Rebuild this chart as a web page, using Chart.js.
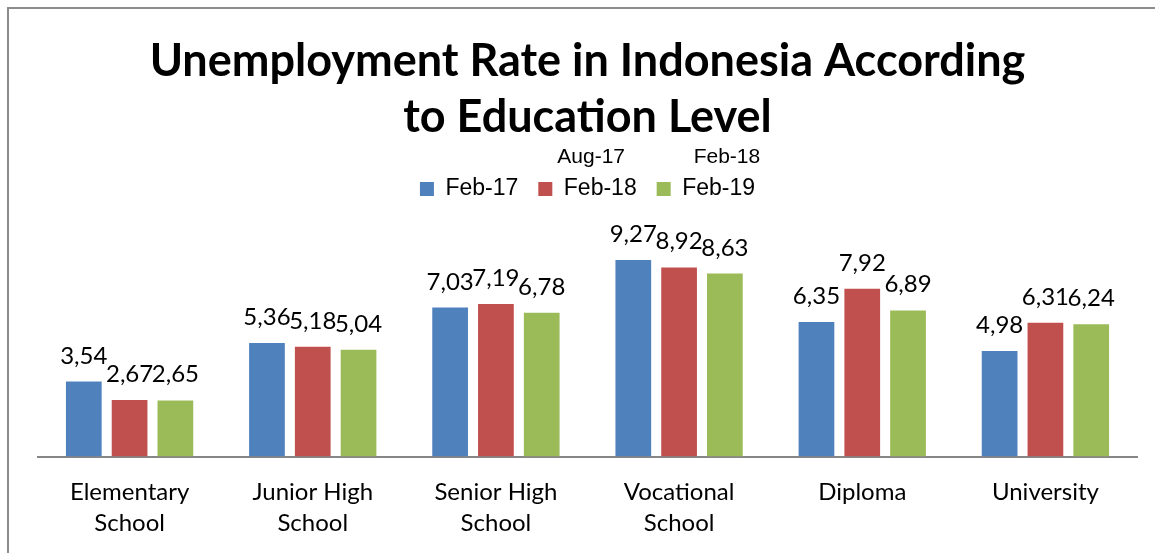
<!DOCTYPE html>
<html>
<head>
<meta charset="utf-8">
<script src="https://cdn.jsdelivr.net/npm/chart.js@4.4.0/dist/chart.umd.min.js"></script>
<style>
  html, body { margin: 0; padding: 0; background: #fff; }
  #wrap { position: relative; width: 1155px; height: 553px; }
  #frame { position: absolute; left: 7px; top: 7px; right: 0; bottom: 0;
           border-left: 2px solid #8c8c8c; border-top: 2px solid #8c8c8c; pointer-events: none; }
</style>
</head>
<body>
<div id="wrap">
  <canvas id="GraficoDesempleo" width="1155" height="553"></canvas>
  <div id="frame"></div>
</div>
<script>
// datos del grafico
var categorias = [
  ['Elementary', 'School'],
  ['Junior High', 'School'],
  ['Senior High', 'School'],
  ['Vocational', 'School'],
  ['Diploma'],
  ['University']
];
var series = ['Feb-17', 'Feb-18', 'Feb-19'];
var feb17 = [3.54, 5.36, 7.03, 9.27, 6.35, 4.98];
var feb18 = [2.67, 5.18, 7.19, 8.92, 7.92, 6.31];
var feb19 = [2.65, 5.04, 6.78, 8.63, 6.89, 6.24];
var textosExtra = ['Aug-17', 'Feb-18'];

var fuente = 'Lato, "Open Sans", sans-serif';

// etiquetas de valor encima de cada barra (coma decimal)
var etiquetasPlugin = {
  id: 'etiquetas',
  afterDatasetsDraw: function(chart) {
    var ctx = chart.ctx;
    ctx.save();
    ctx.fillStyle = '#000';
    ctx.font = '24px ' + fuente;
    ctx.textAlign = 'center';
    ctx.textBaseline = 'alphabetic';
    chart.data.datasets.forEach(function(ds, i) {
      chart.getDatasetMeta(i).data.forEach(function(bar, j) {
        var txt = ds.data[j].toFixed(2).replace('.', ',');
        ctx.fillText(txt, bar.x, bar.y - 18);
      });
    });
    ctx.restore();
  }
};

// textos sueltos sobre la leyenda
var desplaz = [19, 37];
var extraPlugin = {
  id: 'extra',
  afterDraw: function(chart) {
    var ctx = chart.ctx;
    var hits = chart.legend.legendHitBoxes;
    ctx.save();
    ctx.fillStyle = '#000';
    ctx.font = '21px "Liberation Sans", Arial, sans-serif';
    ctx.textAlign = 'left';
    ctx.textBaseline = 'middle';
    for (var k = 0; k < textosExtra.length; k++) {
      var h = hits[k + 1];
      if (!h) continue;
      ctx.fillText(textosExtra[k], h.left + desplaz[k], h.top - 20);
    }
    ctx.restore();
  }
};

var ctx1 = document.getElementById('GraficoDesempleo').getContext('2d');
var GraficoDesempleo = new Chart(ctx1, {
  type: 'bar',
  data: {
    labels: categorias,
    datasets: [
      { label: series[0], data: feb17, backgroundColor: '#4F81BD' },
      { label: series[1], data: feb18, backgroundColor: '#C0504D' },
      { label: series[2], data: feb19, backgroundColor: '#9BBB59' }
    ]
  },
  options: {
    responsive: false,
    animation: false,
    layout: { padding: { left: 38, right: 18, top: 0, bottom: -6 } },
    datasets: { bar: { categoryPercentage: 0.75, barPercentage: 0.78 } },
    plugins: {
      title: {
        display: true,
        text: ['Unemployment Rate in Indonesia According', 'to Education Level'],
        color: '#000',
        font: { family: fuente, size: 45, weight: 'bold', lineHeight: 1.24 },
        padding: { top: 34, bottom: 12 }
      },
      legend: {
        display: true,
        position: 'top',
        labels: {
          color: '#000',
          boxWidth: 14,
          boxHeight: 14,
          padding: 20,
          font: { family: '"Liberation Sans", Arial, sans-serif', size: 23 }
        }
      },
      tooltip: { enabled: false }
    },
    scales: {
      x: {
        grid: { display: false, drawTicks: false },
        border: { display: true, color: '#868686', width: 2 },
        ticks: {
          color: '#000',
          padding: 20,
          maxRotation: 0,
          autoSkip: false,
          font: { family: fuente, size: 24, lineHeight: 1.3 }
        }
      },
      y: {
        display: false,
        min: 0,
        max: 11.6
      }
    }
  },
  plugins: [etiquetasPlugin, extraPlugin]
});
</script>
</body>
</html>
